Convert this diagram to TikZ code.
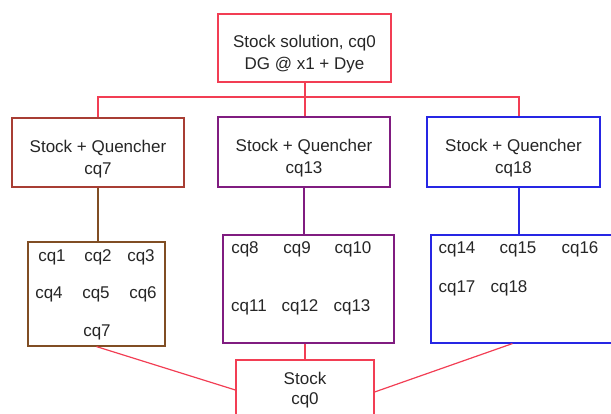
\documentclass[tikz,border=0pt]{standalone}
\usepackage{fontspec}
\setmainfont{Liberation Sans}
\usetikzlibrary{calc}

\definecolor{linkred}{RGB}{242,62,84}
\definecolor{stockbrown}{RGB}{168,62,52}
\definecolor{setbrown}{RGB}{128,78,36}
\definecolor{setpurple}{RGB}{128,28,128}
\definecolor{setblue}{RGB}{38,38,228}

\newcommand{\lowstrut}{\rule{0pt}{25pt}}

\tikzset{
  box/.style={draw, line width=1.2pt, fill=white, align=center, inner sep=0pt,
    text=black!85, font=\fontsize{17}{22}\selectfont},
  link/.style={line width=1.2pt},
  item/.style={text=black!85, font=\fontsize{17}{22}\selectfont, inner sep=0pt}
}

\begin{document}
\begin{tikzpicture}[x=1pt,y=-1pt]
    \useasboundingbox (0,0) rectangle (611,413);
    \clip (0,0) rectangle (611,413);

    % stock at the top
    \node[box, draw=linkred, minimum width=173pt, minimum height=68pt] (stock0) at (304.5,48)
        {\lowstrut Stock solution, cq0\\DG @ x1 + Dye};

    % quencher boxes
    \node[box, draw=stockbrown, minimum width=172pt, minimum height=69pt] (q7) at (98,152.5)
        {\lowstrut Stock + Quencher\\cq7};
    \node[box, draw=setpurple, minimum width=172pt, minimum height=70pt] (q13) at (304,152)
        {\lowstrut Stock + Quencher\\cq13};
    \node[box, draw=setblue, minimum width=173pt, minimum height=70pt] (q18) at (513.5,152)
        {\lowstrut Stock + Quencher\\cq18};

    % sample sets
    \node[box, draw=setbrown, minimum width=137pt, minimum height=104pt] (set7) at (96.5,294) {};
    \node[box, draw=setpurple, minimum width=171pt, minimum height=108pt] (set13) at (308.5,289) {};
    \node[box, draw=setblue, minimum width=190pt, minimum height=108pt] (set18) at (526,289) {};

    % stock at the bottom
    \node[box, draw=linkred, minimum width=138pt, minimum height=60pt] (base) at (305,390)
        {Stock\\[-2pt]cq0};

    \foreach \name/\x/\y in {cq1/52/257, cq2/98/257, cq3/141/257,
                             cq4/49/294, cq5/96/294, cq6/143/294, cq7/97/332,
                             cq8/245/249, cq9/297/249, cq10/353/249,
                             cq11/249/307, cq12/300/307, cq13/352/307,
                             cq14/457/249, cq15/518/249, cq16/580/249,
                             cq17/457/288, cq18/509/288}
        \node[item] (\name) at (\x,\y) {\name};

    % links
    \coordinate (bus) at (305,97);
    \coordinate (drop18) at (519,97);
    \draw[link, color=linkred] (bus |- stock0.south) -- (bus |- q13.north);
    \draw[link, color=linkred] (q7.north) -- (q7.north |- bus) -- (drop18) -- (drop18 |- q18.north);

    \draw[link, color=setbrown] (q7.south) -- (q7.south |- set7.north);
    \draw[link, color=setpurple] (q13.south) -- (q13.south |- set13.north);
    \draw[link, color=setblue] (drop18 |- q18.south) -- (drop18 |- set18.north);

    \draw[link, color=linkred] (set7.south) -- (base.west);
    \draw[link, color=linkred] (set13.south -| base.north) -- (base.north);
    \draw[link, color=linkred] ([xshift=82pt]set18.south west) -- ([yshift=-2pt]base.east);
\end{tikzpicture}
\end{document}
